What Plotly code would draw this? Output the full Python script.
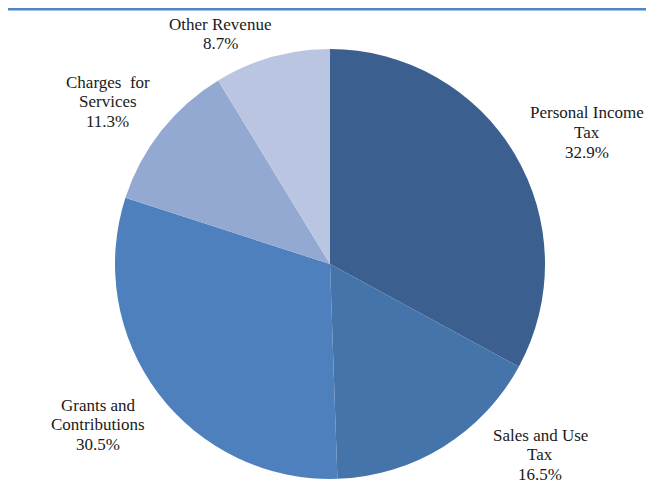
import plotly.graph_objects as go

categories = ["Personal Income<br>Tax", "Sales and Use<br>Tax", "Grants and<br>Contributions",
              "Charges  for<br>Services", "Other Revenue"]
values = [32.9, 16.5, 30.5, 11.3, 8.7]
colors = ["#3b5f8e", "#4574aa", "#4f80be", "#94a9d1", "#bac6e1"]

# page has an 8px body margin: figure coordinates are screen coordinates minus 8
OFF = 8
# label positions on screen: centre x and first-line y – layout only
label_pos = [(587, 113), (540, 435), (98, 405), (107.5, 82), (220, 24)]
LINE_STEP = 19.5
FONT = "Liberation Serif, Times New Roman, Times, serif"

W, H = 646, 493
fig = go.Figure(go.Pie(
    values=values,
    labels=categories,
    sort=False,
    direction="clockwise",
    rotation=0,
    textinfo="none",
    hoverinfo="label+percent",
    marker=dict(colors=colors, line=dict(width=0)),
    domain=dict(x=[(115 - OFF) / W, (545 - OFF) / W],
                y=[1 - (479 - OFF) / H, 1 - (49 - OFF) / H]),
    showlegend=False,
))

for cat, val, (px, py) in zip(categories, values, label_pos):
    lines = cat.split("<br>") + [f"{val:.1f}%"]
    for i, line in enumerate(lines):
        fig.add_annotation(
            x=(px - OFF) / W, y=1 - (py - OFF + i * LINE_STEP) / H,
            xref="paper", yref="paper",
            text=line, showarrow=False,
            font=dict(family=FONT, size=17, color="#1a1a1a"),
            align="center", xanchor="center", yanchor="middle",
        )

fig.add_shape(type="line", xref="paper", yref="paper",
              x0=0, x1=(648 - OFF) / W, y0=1 - 1.25 / H, y1=1 - 1.25 / H,
              line=dict(color="#4f86c6", width=2.5))

fig.update_layout(template="none", font=dict(family=FONT, size=17, color="#1a1a1a"),
                  width=W, height=H, margin=dict(l=0, r=0, t=0, b=0),
                  paper_bgcolor="white", plot_bgcolor="white")
fig.write_html("out.html", config={"displayModeBar": False})
